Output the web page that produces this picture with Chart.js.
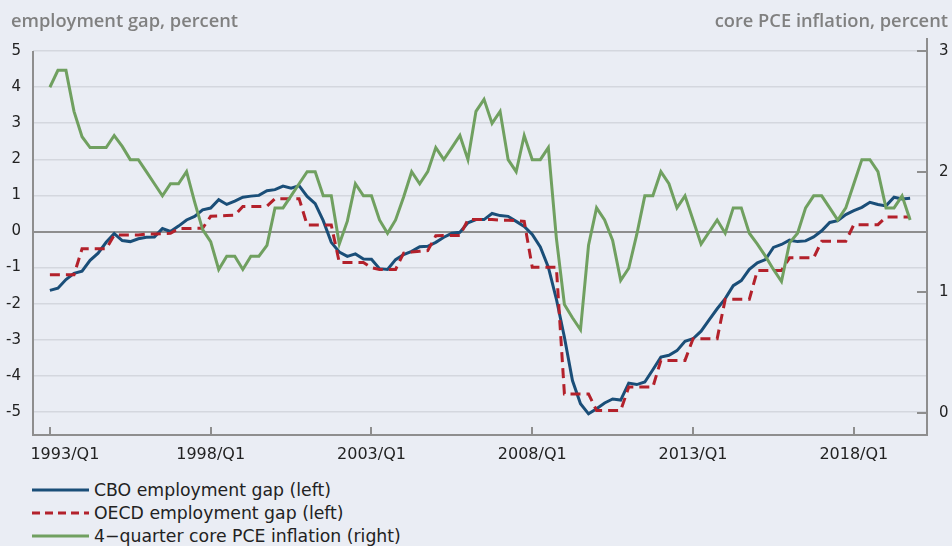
<!DOCTYPE html>
<html>
<head>
<meta charset="utf-8">
<script src="https://cdn.jsdelivr.net/npm/chart.js@4/dist/chart.umd.min.js"></script>
<style>
  html, body { margin: 0; padding: 0; background: #eaedf4; }
  #wrap { position: relative; width: 952px; height: 546px; background: #eaedf4; overflow: hidden; font-family: "DejaVu Sans", sans-serif; }
  #chartBox { position: absolute; left: 0; top: 0; width: 952px; height: 470px; }
  .axTitle { position: absolute; top: 7px; font-family: "Open Sans", sans-serif; font-size: 18.3px; font-weight: 600; color: #808080; white-space: nowrap; line-height: normal; }
  #tl { left: 11px; }
  #tr { right: 4px; }
  #legend { position: absolute; left: 32px; top: 478px; }
  .lrow { display: flex; align-items: center; height: 23.4px; font-size: 17.3px; color: #222; white-space: nowrap; }
  .lrow svg { margin-right: 5px; }
</style>
</head>
<body>
<div id="wrap">
  <div id="chartBox"><canvas id="c"></canvas></div>
  <div class="axTitle" id="tl">employment gap, percent</div>
  <div class="axTitle" id="tr">core PCE inflation, percent</div>
  <div id="legend"></div>
</div>
<script>
// ---- data (quarterly, 1993/Q1 .. 2019/Q4) ----
const startYear = 1993;
const nQuarters = 108;
const categories = [];
for (let i = 0; i < nQuarters; i++) {
  categories.push((startYear + Math.floor(i / 4)) + '/Q' + (i % 4 + 1));
}
const xTickLabels = ['1993/Q1', '1998/Q1', '2003/Q1', '2008/Q1', '2013/Q1', '2018/Q1'];
const leftTicks = [-5, -4, -3, -2, -1, 0, 1, 2, 3, 4, 5];
const rightTicks = [0, 1, 2, 3];

const seriesNames = ['CBO employment gap (left)', 'OECD employment gap (left)', '4\u2212quarter core PCE inflation (right)'];

const cboGap = [
  -1.63, -1.57, -1.33, -1.16, -1.10, -0.80, -0.60, -0.30,
  -0.06, -0.25, -0.28, -0.20, -0.16, -0.15, 0.08, 0.00,
  0.15, 0.32, 0.42, 0.60, 0.65, 0.88, 0.75, 0.84,
  0.95, 0.98, 1.00, 1.13, 1.16, 1.26, 1.20, 1.27,
  0.97, 0.77, 0.30, -0.30, -0.57, -0.69, -0.62, -0.76,
  -0.77, -1.03, -1.05, -0.78, -0.64, -0.55, -0.42, -0.41,
  -0.30, -0.16, -0.05, -0.02, 0.24, 0.33, 0.33, 0.50,
  0.44, 0.42, 0.28, 0.14, -0.08, -0.43, -0.99, -1.87,
  -2.93, -4.13, -4.77, -5.05, -4.91, -4.75, -4.64, -4.67,
  -4.20, -4.24, -4.17, -3.83, -3.48, -3.43, -3.30, -3.04,
  -2.97, -2.76, -2.45, -2.14, -1.86, -1.50, -1.36, -1.05,
  -0.87, -0.78, -0.44, -0.36, -0.24, -0.28, -0.26, -0.15,
  0.02, 0.25, 0.30, 0.47, 0.58, 0.67, 0.81, 0.75,
  0.71, 0.95, 0.90, 0.92
];

const oecdGap = [
  -1.20, -1.20, -1.20, -1.20, -0.48, -0.48, -0.48, -0.48,
  -0.10, -0.10, -0.10, -0.10, -0.07, -0.07, -0.06, -0.05,
  0.08, 0.08, 0.09, 0.09, 0.42, 0.43, 0.44, 0.45,
  0.69, 0.69, 0.69, 0.70, 0.91, 0.91, 0.91, 0.91,
  0.18, 0.18, 0.18, 0.18, -0.86, -0.86, -0.86, -0.86,
  -1.00, -1.05, -1.05, -1.05, -0.60, -0.57, -0.55, -0.53,
  -0.12, -0.11, -0.11, -0.11, 0.33, 0.33, 0.33, 0.33,
  0.31, 0.31, 0.30, 0.28, -0.99, -0.99, -0.99, -0.99,
  -4.50, -4.50, -4.50, -4.50, -4.96, -4.96, -4.96, -4.96,
  -4.31, -4.31, -4.31, -4.31, -3.57, -3.57, -3.57, -3.57,
  -2.97, -2.97, -2.97, -2.97, -1.88, -1.88, -1.88, -1.88,
  -1.08, -1.08, -1.08, -1.08, -0.73, -0.73, -0.73, -0.73,
  -0.27, -0.27, -0.27, -0.27, 0.19, 0.19, 0.19, 0.19,
  0.40, 0.40, 0.40, 0.40
];

const corePce = [
  2.70, 2.84, 2.84, 2.50, 2.29, 2.20, 2.20, 2.20,
  2.30, 2.21, 2.10, 2.10, 2.00, 1.90, 1.80, 1.90,
  1.90, 2.00, 1.75, 1.52, 1.42, 1.19, 1.30, 1.30,
  1.19, 1.30, 1.30, 1.39, 1.70, 1.70, 1.80, 1.90,
  2.00, 2.00, 1.80, 1.80, 1.40, 1.59, 1.90, 1.80,
  1.80, 1.60, 1.49, 1.60, 1.79, 2.00, 1.90, 2.00,
  2.20, 2.10, 2.20, 2.30, 2.10, 2.50, 2.60, 2.40,
  2.50, 2.10, 2.00, 2.30, 2.10, 2.10, 2.20, 1.45,
  0.90, 0.79, 0.69, 1.39, 1.70, 1.60, 1.43, 1.10,
  1.20, 1.48, 1.80, 1.80, 2.00, 1.90, 1.70, 1.80,
  1.60, 1.40, 1.50, 1.60, 1.49, 1.70, 1.70, 1.49,
  1.40, 1.30, 1.19, 1.09, 1.41, 1.49, 1.70, 1.80,
  1.80, 1.70, 1.60, 1.70, 1.90, 2.10, 2.10, 2.00,
  1.70, 1.70, 1.80, 1.60
];

// ---- styles ----
const colBlue = '#1a4e78';
const colRed = '#b3212b';
const colGreen = '#70a060';
const axisColor = '#8e8e8e';
const gridColor = '#d4d7de';
const fontFam = '"DejaVu Sans", sans-serif';
const firstLabelShift = 15; // first x label sits right of its tick in the original

const toXY = arr => arr.map((v, i) => ({ x: i, y: v }));
const tickIndex = xTickLabels.map(l => categories.indexOf(l));

const axisDecor = {
  id: 'axisDecor',
  beforeDraw(chart) {
    const items = chart.scales.x.getLabelItems(chart.chartArea);
    if (items.length && !items[0]._shifted) {
      items[0].options.translation[0] += firstLabelShift;
      items[0]._shifted = true;
    }
  },
  beforeDatasetsDraw(chart) {
    const { ctx, chartArea: a, scales } = chart;
    const x = scales.x, y = scales.y, y1 = scales.y1;
    ctx.save();
    ctx.strokeStyle = axisColor;
    ctx.lineWidth = 2;
    ctx.lineJoin = 'miter';
    ctx.beginPath();
    ctx.moveTo(a.left, y.getPixelForValue(5));
    ctx.lineTo(a.left, a.bottom);
    ctx.lineTo(a.right, a.bottom);
    ctx.lineTo(a.right, a.top);
    ctx.stroke();
    ctx.beginPath();
    x.ticks.forEach(t => {
      const px = Math.round(x.getPixelForValue(t.value));
      ctx.moveTo(px, a.bottom);
      ctx.lineTo(px, a.bottom - 8);
    });
    y1.ticks.forEach(t => {
      const py = Math.round(y1.getPixelForValue(t.value));
      ctx.moveTo(a.right, py);
      ctx.lineTo(a.right - 10, py);
    });
    ctx.stroke();
    ctx.restore();
  }
};

const chart = new Chart(document.getElementById('c'), {
  type: 'line',
  data: {
    datasets: [
      { label: seriesNames[0], data: toXY(cboGap), yAxisID: 'y', borderColor: colBlue, borderWidth: 3, pointRadius: 0, tension: 0, order: 2 },
      { label: seriesNames[1], data: toXY(oecdGap), yAxisID: 'y', borderColor: colRed, borderWidth: 3, borderDash: [10, 6], pointRadius: 0, tension: 0, order: 1 },
      { label: seriesNames[2], data: toXY(corePce), yAxisID: 'y1', borderColor: colGreen, borderWidth: 3, pointRadius: 0, tension: 0, order: 0 }
    ]
  },
  options: {
    responsive: true,
    maintainAspectRatio: false,
    animation: false,
    layout: { padding: { top: 38, left: 0, right: 0, bottom: 0 } },
    plugins: { legend: { display: false }, tooltip: { enabled: false } },
    scales: {
      x: {
        type: 'linear',
        min: -2.1,
        max: 109.1,
        afterBuildTicks: s => { s.ticks = tickIndex.map(v => ({ value: v })); },
        afterFit: s => { s.height = 35; s.paddingLeft = 0; s.paddingRight = 0; },
        grid: { display: false, drawTicks: false },
        border: { display: false },
        ticks: {
          padding: 10.5,
          color: '#222',
          font: { family: fontFam, size: 16 },
          maxRotation: 0,
          autoSkip: false,
          callback: v => categories[v]
        }
      },
      y: {
        position: 'left',
        min: -5.637,
        max: 5.36,
        afterBuildTicks: s => { s.ticks = leftTicks.map(v => ({ value: v })); },
        afterFit: s => { s.width = 33; s.paddingTop = 0; s.paddingBottom = 0; },
        grid: {
          drawTicks: false,
          color: c => (c.tick && c.tick.value === 0) ? axisColor : gridColor,
          lineWidth: c => (c.tick && c.tick.value === 0) ? 2 : 1.5
        },
        border: { display: false },
        ticks: { padding: 12, color: '#222', font: { family: fontFam, size: 15 } }
      },
      y1: {
        position: 'right',
        min: -0.182,
        max: 3.108,
        afterBuildTicks: s => { s.ticks = rightTicks.map(v => ({ value: v })); },
        afterFit: s => { s.width = 25; s.paddingTop = 0; s.paddingBottom = 0; },
        grid: { display: false, drawTicks: false },
        border: { display: false },
        ticks: { padding: 12, color: '#222', font: { family: fontFam, size: 15 } }
      }
    }
  },
  plugins: [axisDecor]
});

// ---- HTML legend built from the chart's datasets ----
const legendEl = document.getElementById('legend');
[0, 1, 2].forEach(i => {
  const ds = chart.data.datasets[i];
  const row = document.createElement('div');
  row.className = 'lrow';
  const dash = ds.borderDash ? 'stroke-dasharray="8,5"' : '';
  row.innerHTML = '<svg width="57" height="6"><line x1="0" y1="3" x2="57" y2="3" stroke="' + ds.borderColor + '" stroke-width="3" ' + dash + '/></svg><span>' + ds.label + '</span>';
  legendEl.appendChild(row);
});
</script>
</body>
</html>
